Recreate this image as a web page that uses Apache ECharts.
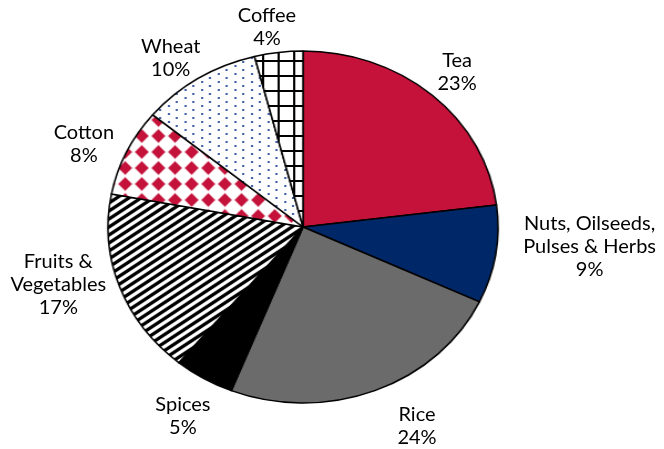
<!DOCTYPE html>
<html><head><meta charset="utf-8">
<script src="https://cdn.jsdelivr.net/npm/echarts@6.0.0/dist/echarts.min.js"></script>
<style>
html,body{margin:0;padding:0;background:#fff;}
#wrap{position:relative;width:664px;height:449px;overflow:hidden;background:#fff;}
#pie,#labels{position:absolute;left:0;top:0;width:664px;height:449px;}
#pie{transform:scaleX(1.108);transform-origin:303px 227px;}
#labels{pointer-events:none;}
</style></head><body>
<div id="wrap"><div id="pie"></div><div id="labels"></div></div>
<script>
// ---- data ----
const categories = ['Tea', 'Nuts, Oilseeds,\nPulses & Herbs', 'Rice', 'Spices', 'Fruits &\nVegetables', 'Cotton', 'Wheat', 'Coffee'];
const shares = [23, 9, 24, 5, 17, 8, 10, 4];

// ---- geometry / style ----
const CX = 303, CY = 227, R = 176, K = 1.108, GAP = 10;
const FONT = 'Lato, "Open Sans", sans-serif';
// small per-label nudges (px) to mimic the reference's label placement
const labelNudge = [[-1.5, 7.5], [14, -21], [28, 0], [1.5, 0], [1.5, -25], [0, 12.5], [-3.5, 18], [-7, 11]];

function tile(w, h, draw) {
  const c = document.createElement('canvas');
  c.width = w; c.height = h;
  const g = c.getContext('2d');
  g.fillStyle = '#fff'; g.fillRect(0, 0, w, h);
  draw(g, w, h);
  return { image: c, repeat: 'repeat' };
}
function diamond(g, cx, cy, hx, hy) {
  g.beginPath();
  g.moveTo(cx, cy - hy); g.lineTo(cx + hx, cy); g.lineTo(cx, cy + hy); g.lineTo(cx - hx, cy); g.closePath(); g.fill();
}
const stripes = tile(11, 8, (g, w, h) => {
  g.strokeStyle = '#000'; g.lineWidth = 3.2;
  for (let n = -1; n <= 2; n++) {
    g.beginPath(); g.moveTo((n + 1) * w, -h); g.lineTo((n - 2) * w, 2 * h); g.stroke();
  }
});
const diamonds = tile(15, 16, (g, w, h) => {
  g.fillStyle = '#e7a4b4'; diamond(g, 7.5, 8, 6.8, 7.4);
  g.fillStyle = '#c4123a'; diamond(g, 7.5, 8, 5.9, 6.5);
});
const dots = tile(15, 8, (g, w, h) => {
  g.fillStyle = '#4464a8';
  g.fillRect(1, 1, 2, 2); g.fillRect(8, 5, 2, 2);
});
const grid = tile(14, 15, (g, w, h) => {
  g.fillStyle = '#000';
  g.fillRect(0, 0, 2, h); g.fillRect(0, 0, w, 2);
});
const fills = ['#c4123a', '#002868', '#6b6b6b', '#000000', stripes, diamonds, dots, grid];

// mid angles (radians, screen coords) derived from the data
const total = shares.reduce((a, b) => a + b, 0);
const mids = [];
let cum = 0;
shares.forEach(v => { mids.push(-Math.PI / 2 + 2 * Math.PI * (cum + v / 2) / total); cum += v; });

const pieChart = echarts.init(document.getElementById('pie'), null, { renderer: 'canvas' });
pieChart.setOption({
  animation: false,
  series: [{
    type: 'pie', center: [CX, CY], radius: R, startAngle: 90, clockwise: true,
    silent: true, avoidLabelOverlap: false,
    label: { show: false }, labelLine: { show: false },
    itemStyle: { borderColor: '#000', borderWidth: 1.5 },
    data: categories.map((n, i) => ({ name: n, value: shares[i], itemStyle: { color: fills[i] } }))
  }]
});

const labelChart = echarts.init(document.getElementById('labels'), null, { renderer: 'canvas' });
labelChart.setOption({
  animation: false,
  series: [{
    type: 'pie', center: [CX, CY], radius: R, startAngle: 90, clockwise: true,
    silent: true, avoidLabelOverlap: false,
    itemStyle: { color: 'rgba(0,0,0,0)', borderWidth: 0 },
    label: {
      show: true, position: 'outside', color: '#000', fontFamily: FONT, fontSize: 20, lineHeight: 23,
      align: 'center', formatter: p => p.name + '\n' + p.value + '%'
    },
    labelLine: { show: false },
    labelLayout: function (p) {
      const i = p.dataIndex;
      const a = mids[i];
      const ux = Math.cos(a), uy = Math.sin(a);
      const ex = CX + K * R * ux, ey = CY + R * uy;
      const w = p.labelRect.width, h = p.labelRect.height;
      const d = GAP + Math.abs(ux) * w / 2 + Math.abs(uy) * h / 2;
      return { x: ex + d * ux + labelNudge[i][0], y: ey + d * uy + labelNudge[i][1], align: 'center', verticalAlign: 'middle' };
    },
    data: categories.map((n, i) => ({ name: n, value: shares[i] }))
  }]
});
</script>
</body></html>
